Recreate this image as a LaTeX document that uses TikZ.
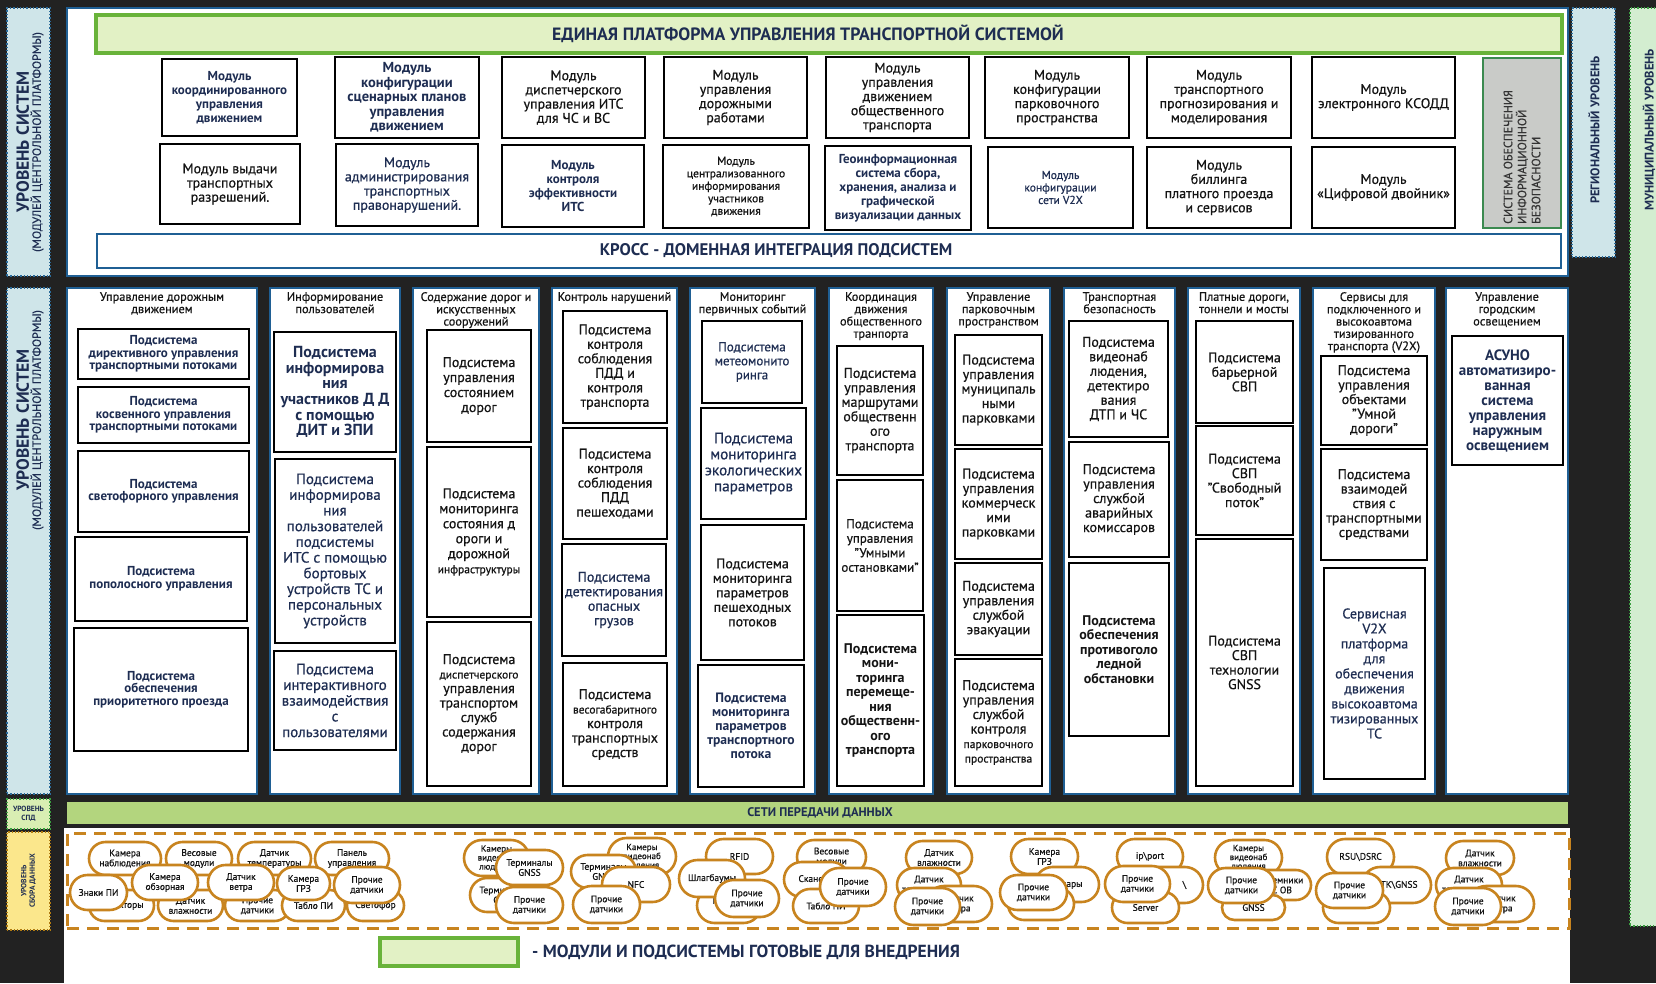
\documentclass[tikz,border=0pt]{standalone}
\usepackage{fontspec}
\setmainfont{PT Sans}[UprightFeatures={FakeBold=0.6}]
\usetikzlibrary{shapes.misc}
\definecolor{bgdark}{HTML}{222222}
\definecolor{pblue}{HTML}{1F5F94}
\definecolor{navy}{HTML}{1E2D52}
\definecolor{tblack}{HTML}{141414}
\definecolor{gfill}{HTML}{E2F1C5}
\definecolor{gline}{HTML}{69B33A}
\definecolor{spdg}{HTML}{B3D57E}
\definecolor{orng}{HTML}{C8841F}
\definecolor{lblue}{HTML}{CFE5E9}
\definecolor{lbline}{HTML}{2B6C9C}
\definecolor{lgreen}{HTML}{D3EDD0}
\definecolor{lgline}{HTML}{3AA040}
\definecolor{spdlab}{HTML}{D9EEB3}
\definecolor{ylab}{HTML}{FBE78C}
\definecolor{ylline}{HTML}{B07A10}
\definecolor{ibgrey}{HTML}{C9CBC8}
\definecolor{ibline}{HTML}{3B8A50}
\newcommand\myfs[2]{\fontsize{#1}{#2}\selectfont}
\newcommand\mybox[7]{%
 \pgfmathsetmacro\myxc{(#2+#4)/2}%
 \pgfmathsetmacro\myyc{(#3+#5)/2}%
 \pgfmathsetmacro\myww{#4-#2}%
 \pgfmathsetmacro\myhh{#5-#3}%
 \node[#6, minimum width=\myww pt, minimum height=\myhh pt] (#1) at (\myxc,\myyc) {#7};}
\newcommand\mybub[6][]{%
 \pgfmathsetmacro\myxc{(#3+#5)/2}%
 \pgfmathsetmacro\myyc{(#4+#6)/2}%
 \pgfmathsetmacro\myww{#5-#3}%
 \pgfmathsetmacro\myhh{#6-#4}%
 \node[bub,#1, minimum width=\myww pt, minimum height=\myhh pt] (#2) at (\myxc,\myyc)}
\begin{document}
\begin{tikzpicture}[x=1pt,y=-1pt,
 panel/.style={draw=pblue,line width=2.4pt,fill=white,inner sep=0pt},
 sb/.style={draw=black,line width=2.6pt,fill=white,align=center,inner sep=0pt,text=tblack},
 rg/.style 2 args={font=\myfs{#1}{#2}},
 bd/.style 2 args={font=\myfs{#1}{#2}\bfseries},
 nv/.style={text=navy},
 hdr/.style={anchor=north,align=center,inner sep=0pt,text=tblack,font=\myfs{12.3}{12.3}},
 lab/.style={fill=lblue,draw=lbline,dotted,line width=1.3pt,inner sep=0pt},
 rot/.style={rotate=90,align=center,inner sep=0pt,text=navy},
 bub/.style={rounded rectangle,draw=orng,line width=2.6pt,fill=white,align=center,inner sep=0pt,text=tblack,font=\myfs{9.5}{10}},
 bub3/.style={font=\myfs{9}{9}}
]
\useasboundingbox (0,0) rectangle (1656,983);
\fill[bgdark] (0,0) rectangle (1656,983);

% ---------- side labels ----------
\mybox{labA}{7}{8}{50}{276}{lab}{}
\node[rot] (labAt) at (30,142) {{\myfs{17.5}{19}\bfseries УРОВЕНЬ СИСТЕМ}\\{\myfs{12}{13}(МОДУЛЕЙ ЦЕНТРОЛЬНОЙ ПЛАТФОРМЫ)}};
\mybox{labB}{7}{288}{50}{794}{lab}{}
\node[rot] (labBt) at (30,420) {{\myfs{17.5}{19}\bfseries УРОВЕНЬ СИСТЕМ}\\{\myfs{12}{13}(МОДУЛЕЙ ЦЕНТРОЛЬНОЙ ПЛАТФОРМЫ)}};
\mybox{labC}{7}{799}{50}{829}{lab,fill=spdlab,draw=lgline}{}
\node[align=center,inner sep=0pt,text=navy,font=\myfs{7.5}{8.5}\bfseries] (labCt) at (28.5,814) {УРОВЕНЬ\\СПД};
\mybox{labD}{7}{832}{50}{930}{lab,fill=ylab,draw=ylline}{}
\node[rot,font=\myfs{7.5}{8.5}\bfseries] (labDt) at (28.5,881) {УРОВЕНЬ\\СБОРА ДАННЫХ};
\mybox{labE}{1572}{8}{1615}{257}{lab}{}
\node[rot,font=\myfs{12.5}{14}\bfseries] (labEt) at (1594,130) {РЕГИОНАЛЬНЫЙ УРОВЕНЬ};
\mybox{labF}{1630}{8}{1672}{926}{lab,fill=lgreen,draw=lgline}{}
\node[rot,font=\myfs{12.5}{14}\bfseries] (labFt) at (1649,130) {МУНИЦИПАЛЬНЫЙ УРОВЕНЬ};

% ---------- top panel ----------
\mybox{top}{67}{8}{1568}{276}{panel}{}
\mybox{title}{96}{15}{1562}{53}{fill=gfill,draw=gline,line width=4pt}{}
\node[text=navy,font=\myfs{17.8}{19}\bfseries,inner sep=0pt] (titlet) at (808,34) {ЕДИНАЯ ПЛАТФОРМА УПРАВЛЕНИЯ ТРАНСПОРТНОЙ СИСТЕМОЙ};
\mybox{cross}{97}{234}{1561}{268}{panel}{}
\node[text=navy,font=\myfs{16.8}{18}\bfseries,inner sep=0pt] (crosst) at (776,251) {КРОСС - ДОМЕННАЯ ИНТЕГРАЦИЯ ПОДСИСТЕМ};
\mybox{ib}{1483}{58}{1561}{228}{fill=ibgrey,draw=ibline,line width=2pt}{}
\node[rotate=90,anchor=west,align=left,inner sep=0pt,text=black!80,font=\myfs{12}{14}] (ibt) at (1522,224) {СИСТЕМА ОБЕСПЕЧЕНИЯ\\ИНФОРМАЦИОННОЙ\\БЕЗОПАСНОСТИ};

\mybox{m1}{162}{59}{297}{136}{sb,bd={13}{14},nv}{Модуль\\координированного\\управления\\движением}
\mybox{m2}{335}{57}{479}{138}{sb,bd={14.5}{14.4},nv}{Модуль\\конфигурации\\сценарных планов\\управления\\движением}
\mybox{m3}{502}{57}{645}{138}{sb,rg={14}{14.2}}{Модуль\\диспетчерского\\управления ИТС\\для ЧС и ВС}
\mybox{m4}{664}{57}{807}{138}{sb,rg={14}{14.2}}{Модуль\\управления\\дорожными\\работами}
\mybox{m5}{826}{57}{969}{138}{sb,rg={14}{14.2}}{Модуль\\управления\\движением\\общественного\\транспорта}
\mybox{m6}{985}{57}{1129}{138}{sb,rg={14}{14.2}}{Модуль\\конфигурации\\парковочного\\пространства}
\mybox{m7}{1147}{57}{1291}{138}{sb,rg={14}{14.2}}{Модуль\\транспортного\\прогнозирования и\\моделирования}
\mybox{m8}{1312}{57}{1455}{138}{sb,rg={14}{14.2}}{Модуль\\электронного КСОДД}
\mybox{n1}{160}{144}{300}{224}{sb,rg={14}{14.2}}{Модуль выдачи\\транспортных\\разрешений.}
\mybox{n2}{336}{144}{478}{226}{sb,rg={14}{14.2},nv}{Модуль\\администрирования\\транспортных\\правонарушений.}
\mybox{n3}{502}{145}{644}{227}{sb,bd={13}{14},nv}{Модуль\\контроля\\эффективности\\ИТС}
\mybox{n4}{663}{145}{809}{228}{sb,rg={11.5}{12.5}}{Модуль\\централизованного\\информирования\\участников\\движения}
\mybox{n5}{825}{146}{971}{230}{sb,bd={13}{14},nv}{Геоинформационная\\система сбора,\\хранения, анализа и\\графической\\визуализации данных}
\mybox{n6}{988}{147}{1133}{228}{sb,rg={11.5}{12.5},nv}{Модуль\\конфигурации\\сети V2X}
\mybox{n7}{1147}{147}{1291}{228}{sb,rg={14}{14.2}}{Модуль\\биллинга\\платного проезда\\и сервисов}
\mybox{n8}{1312}{147}{1455}{228}{sb,rg={14}{14.2}}{Модуль\\«Цифровой двойник»}

% ---------- columns ----------
\mybox{c1}{67}{288}{257}{794}{panel}{}
\node[hdr] (c1h) at (162,292) {Управление дорожным\\движением};
\mybox{c2}{270}{288}{400}{794}{panel}{}
\node[hdr] (c2h) at (335,292) {Информирование\\пользователей};
\mybox{c3}{413}{288}{539}{794}{panel}{}
\node[hdr] (c3h) at (476,292) {Содержание дорог и\\искусственных\\сооружений};
\mybox{c4}{552}{288}{677}{794}{panel}{}
\node[hdr] (c4h) at (614.5,292) {Контроль нарушений};
\mybox{c5}{690}{288}{815}{794}{panel}{}
\node[hdr] (c5h) at (752.5,292) {Мониторинг\\первичных событий};
\mybox{c6}{829}{288}{933}{794}{panel}{}
\node[hdr] (c6h) at (881,292) {Координация\\движения\\общественного\\транпорта};
\mybox{c7}{947}{288}{1050}{794}{panel}{}
\node[hdr] (c7h) at (998.5,292) {Управление\\парковочным\\пространством};
\mybox{c8}{1064}{288}{1175}{794}{panel}{}
\node[hdr] (c8h) at (1119.5,292) {Транспортная\\безопасность};
\mybox{c9}{1188}{288}{1300}{794}{panel}{}
\node[hdr] (c9h) at (1244,292) {Платные дороги,\\тоннели и мосты};
\mybox{c10}{1313}{288}{1435}{794}{panel}{}
\node[hdr] (c10h) at (1374,292) {Сервисы для\\подключенного и\\высокоавтома\\тизированного\\транспорта (V2X)};
\mybox{c11}{1446}{288}{1568}{794}{panel}{}
\node[hdr] (c11h) at (1507,292) {Управление\\городским\\освещением};

% col 1
\mybox{a1}{78}{329}{249}{379}{sb,bd={13}{12.5},nv}{Подсистема\\директивного управления\\транспортными потоками}
\mybox{a2}{78}{387}{249}{443}{sb,bd={13}{12.5},nv}{Подсистема\\косвенного управления\\транспортными потоками}
\mybox{a3}{78}{451}{249}{532}{sb,bd={13}{12.5},nv}{Подсистема\\светофорного управления}
\mybox{a4}{75}{537}{247}{621}{sb,bd={13}{12.5},nv}{Подсистема\\пополосного управления}
\mybox{a5}{74}{628}{248}{751}{sb,bd={13}{12.5},nv}{Подсистема\\обеспечения\\приоритетного проезда}
% col 2
\mybox{b1}{274}{332}{396}{452}{sb,bd={16}{15.7},nv}{Подсистема\\информирова\\ния\\участников Д Д\\с помощью\\ДИТ и ЗПИ}
\mybox{b2}{275}{459}{395}{643}{sb,rg={15}{15.7},nv}{Подсистема\\информирова\\ния\\пользователей\\подсистемы\\ИТС с помощью\\бортовых\\устройств ТС и\\персональных\\устройств}
\mybox{b3}{274}{651}{396}{750}{sb,rg={15}{15.7},nv}{Подсистема\\интерактивного\\взаимодействия\\с\\пользователями}
% col 3
\mybox{d1}{427}{330}{531}{442}{sb,rg={14}{15}}{Подсистема\\управления\\состоянием\\дорог}
\mybox{d2}{427}{447}{531}{617}{sb,rg={14}{15}}{Подсистема\\мониторинга\\состояния д\\ороги и\\дорожной\\{\myfs{11.5}{15}инфраструктуры}}
\mybox{d3}{427}{622}{531}{786}{sb,rg={14}{14.5}}{Подсистема\\{\myfs{11.5}{14.5}диспетчерского}\\управления\\транспортом\\служб\\содержания\\дорог}
% col 4
\mybox{e1}{563}{311}{667}{423}{sb,rg={14}{14.5}}{Подсистема\\контроля\\соблюдения\\ПДД и\\контроля\\транспорта}
\mybox{e2}{563}{428}{667}{539}{sb,rg={14}{14.5}}{Подсистема\\контроля\\соблюдения\\ПДД\\пешеходами}
\mybox{e3}{562}{544}{666}{656}{sb,rg={14}{14.5},nv}{Подсистема\\детектирования\\опасных\\грузов}
\mybox{e4}{563}{663}{667}{786}{sb,rg={14}{14.5}}{Подсистема\\{\myfs{11.5}{14.5}весогабаритного}\\контроля\\транспортных\\средств}
% col 5
\mybox{f1}{702}{321}{802}{403}{sb,rg={13}{14},nv}{Подсистема\\метеомонито\\ринга}
\mybox{f2}{701}{408}{806}{519}{sb,rg={15.2}{16},nv}{Подсистема\\мониторинга\\экологических\\параметров}
\mybox{f3}{701}{525}{804}{660}{sb,rg={14}{14.5}}{Подсистема\\мониторинга\\параметров\\пешеходных\\потоков}
\mybox{f4}{698}{665}{804}{787}{sb,bd={13.6}{14},nv}{Подсистема\\мониторинга\\параметров\\транспортного\\потока}
% col 6
\mybox{g1}{837}{346}{923}{475}{sb,rg={14}{14.5}}{Подсистема\\управления\\маршрутами\\общественн\\ого\\транспорта}
\mybox{g2}{837}{480}{923}{611}{sb,rg={13}{14.5}}{Подсистема\\управления\\"Умными\\остановками"}
\mybox{g3}{837}{615}{924}{786}{sb,bd={14}{14.5}}{Подсистема\\мони-\\торинга\\перемеще-\\ния\\общественн-\\ого\\транспорта}
% col 7
\mybox{h1}{955}{335}{1042}{445}{sb,rg={14}{14.5}}{Подсистема\\управления\\муниципаль\\ными\\парковками}
\mybox{h2}{955}{449}{1042}{559}{sb,rg={14}{14.5}}{Подсистема\\управления\\коммерческ\\ими\\парковками}
\mybox{h3}{955}{563}{1042}{655}{sb,rg={14}{14.5}}{Подсистема\\управления\\службой\\эвакуации}
\mybox{h4}{955}{659}{1042}{786}{sb,rg={14}{14.5}}{Подсистема\\управления\\службой\\контроля\\{\myfs{11.5}{14.5}парковочного}\\{\myfs{11.5}{14.5}пространства}}
% col 8
\mybox{i1}{1069}{321}{1168}{437}{sb,rg={14}{14.5}}{Подсистема\\видеонаб\\людения,\\детектиро\\вания\\ДТП и ЧС}
\mybox{i2}{1069}{442}{1169}{557}{sb,rg={14}{14.5}}{Подсистема\\управления\\службой\\аварийных\\комиссаров}
\mybox{i3}{1069}{563}{1169}{736}{sb,bd={14}{14.5}}{Подсистема\\обеспечения\\противоголо\\ледной\\обстановки}
% col 9
\mybox{j1}{1196}{321}{1293}{423}{sb,rg={14}{14.5}}{Подсистема\\барьерной\\СВП}
\mybox{j2}{1196}{426}{1293}{535}{sb,rg={14}{14.5}}{Подсистема\\СВП\\"Свободный\\поток"}
\mybox{j3}{1196}{539}{1293}{786}{sb,rg={14}{14.5}}{Подсистема\\СВП\\технологии\\GNSS}
% col 10
\mybox{k1}{1321}{356}{1427}{445}{sb,rg={14}{14.5}}{Подсистема\\управления\\объектами\\"Умной\\дороги"}
\mybox{k2}{1321}{449}{1427}{560}{sb,rg={14}{14.5}}{Подсистема\\взаимодей\\ствия с\\транспортными\\средствами}
\mybox{k3}{1324}{568}{1425}{779}{sb,rg={14}{15},nv}{Сервисная\\V2X\\платформа\\для\\обеспечения\\движения\\высокоавтома\\тизированных\\ТС}
% col 11
\mybox{l1}{1452}{336}{1563}{465}{sb,bd={15}{15},nv}{АСУНО\\автоматизиро-\\ванная\\система\\управления\\наружным\\освещением}

% ---------- data network ----------
\mybox{spd}{67}{802}{1568}{824}{fill=spdg,draw=none}{}
\node[text=navy,font=\myfs{12.5}{13}\bfseries,inner sep=0pt] (spdt) at (820,813) {СЕТИ ПЕРЕДАЧИ ДАННЫХ};
\fill[white] (64,828) rectangle (1570,983);
\mybox{sens}{67}{833}{1569}{928}{draw=orng,line width=3pt,dash pattern=on 12pt off 8pt}{}

% group 1
\mybub{s1}{89}{842}{161}{875}{Камера\\наблюдения};
\mybub{s2}{166}{842}{232}{875}{Весовые\\модули};
\mybub{s3}{238}{842}{311}{875}{Датчик\\температуры};
\mybub{s4}{315}{842}{389}{875}{Панель\\управления};
\mybub{s5}{89}{890}{154}{921}{Детекторы};
\mybub{s6}{158}{890}{223}{921}{Датчик\\влажности};
\mybub{s7}{225}{890}{290}{921}{Прочие\\датчики};
\mybub{s8}{282}{890}{345}{921}{Табло ПИ};
\mybub{s9}{347}{890}{404}{921}{Светофор};
\mybub{s10}{70}{875}{127}{910}{Знаки ПИ};
\mybub{s11}{132}{865}{198}{900}{Камера\\обзорная};
\mybub{s12}{208}{865}{274}{900}{Датчик\\ветра};
\mybub{s13}{277}{867}{330}{900}{Камера\\ГРЗ};
\mybub{s14}{334}{867}{400}{903}{Прочие\\датчики};
% group 2
\mybub[bub3]{t1}{464}{840}{529}{876}{Камеры\\видеонаб\\людения};
\mybub{t2}{470}{878}{535}{912}{Терминалы\\GSM};
\mybub{t3}{496}{850}{563}{885}{Терминалы\\GNSS};
\mybub{t4}{496}{887}{563}{923}{Прочие\\датчики};
% group 3
\mybub[bub3]{u1}{608}{838}{676}{875}{Камеры\\видеонаб\\людения};
\mybub{u2}{571}{855}{636}{888}{Терминалы\\GNSS};
\mybub{u3}{602}{867}{670}{902}{NFC};
\mybub{u4}{573}{886}{640}{923}{Прочие\\датчики};
% group 4
\mybub{v1}{706}{839}{773}{874}{RFID};
\mybub{v2}{697}{888}{761}{923}{Камеры\\ГРЗ};
\mybub{v3}{679}{860}{745}{897}{Шлагбаумы};
\mybub{v4}{715}{880}{779}{917}{Прочие\\датчики};
% group 5
\mybub{w1}{797}{840}{866}{874}{Весовые\\модули};
\mybub{w2}{784}{862}{849}{897}{Сканеры};
\mybub{w3}{793}{889}{859}{923}{Табло ПИ};
\mybub{w4}{820}{868}{886}{906}{Прочие\\датчики};
% group 6
\mybub{x1}{906}{841}{972}{874}{Датчик\\влажности};
\mybub{x2}{897}{868}{961}{902}{Датчик\\температуры};
\mybub{x3}{926}{886}{992}{922}{Датчик\\ветра};
\mybub{x4}{895}{888}{960}{925}{Прочие\\датчики};
% group 7
\mybub{y1}{1011}{839}{1078}{874}{Камера\\ГРЗ};
\mybub{y2}{1035}{867}{1099}{902}{Радары};
\mybub{y3}{1008}{888}{1074}{920}{};
\mybub{y4}{1000}{875}{1067}{910}{Прочие\\датчики};
% group 8
\mybub{z1}{1117}{839}{1183}{874}{ip\textbackslash port};
\mybub{z2}{1140}{867}{1203}{903}{\hspace*{26pt}\textbackslash};
\mybub{z3}{1112}{892}{1179}{923}{Server};
\mybub{z4}{1105}{866}{1170}{902}{Прочие\\датчики};
% group 9
\mybub[bub3]{q1}{1215}{840}{1282}{875}{Камеры\\видеонаб\\людения};
\mybub{q2}{1248}{870}{1311}{900}{Приемники\\ТС ОВ};
\mybub{q3}{1222}{895}{1285}{920}{GNSS};
\mybub{q4}{1208}{868}{1275}{903}{Прочие\\датчики};
% group 10
\mybub{p1}{1327}{839}{1394}{875}{RSU\textbackslash DSRC};
\mybub{p2}{1362}{867}{1431}{903}{RTK\textbackslash GNSS};
\mybub{p3}{1323}{892}{1390}{923}{};
\mybub{p4}{1316}{873}{1383}{908}{Прочие\\датчики};
% group 11
\mybub{o1}{1446}{841}{1514}{875}{Датчик\\влажности};
\mybub{o2}{1436}{868}{1502}{902}{Датчик\\температуры};
\mybub{o3}{1468}{886}{1534}{922}{Датчик\\ветра};
\mybub{o4}{1435}{888}{1501}{925}{Прочие\\датчики};

% ---------- legend ----------
\mybox{leg}{380}{938}{518}{966}{fill=gfill,draw=gline,line width=4pt}{}
\node[anchor=west,text=navy,font=\myfs{17.5}{19}\bfseries,inner sep=0pt] (legt) at (532,952) {- МОДУЛИ И ПОДСИСТЕМЫ ГОТОВЫЕ ДЛЯ ВНЕДРЕНИЯ};
\end{tikzpicture}
\end{document}
